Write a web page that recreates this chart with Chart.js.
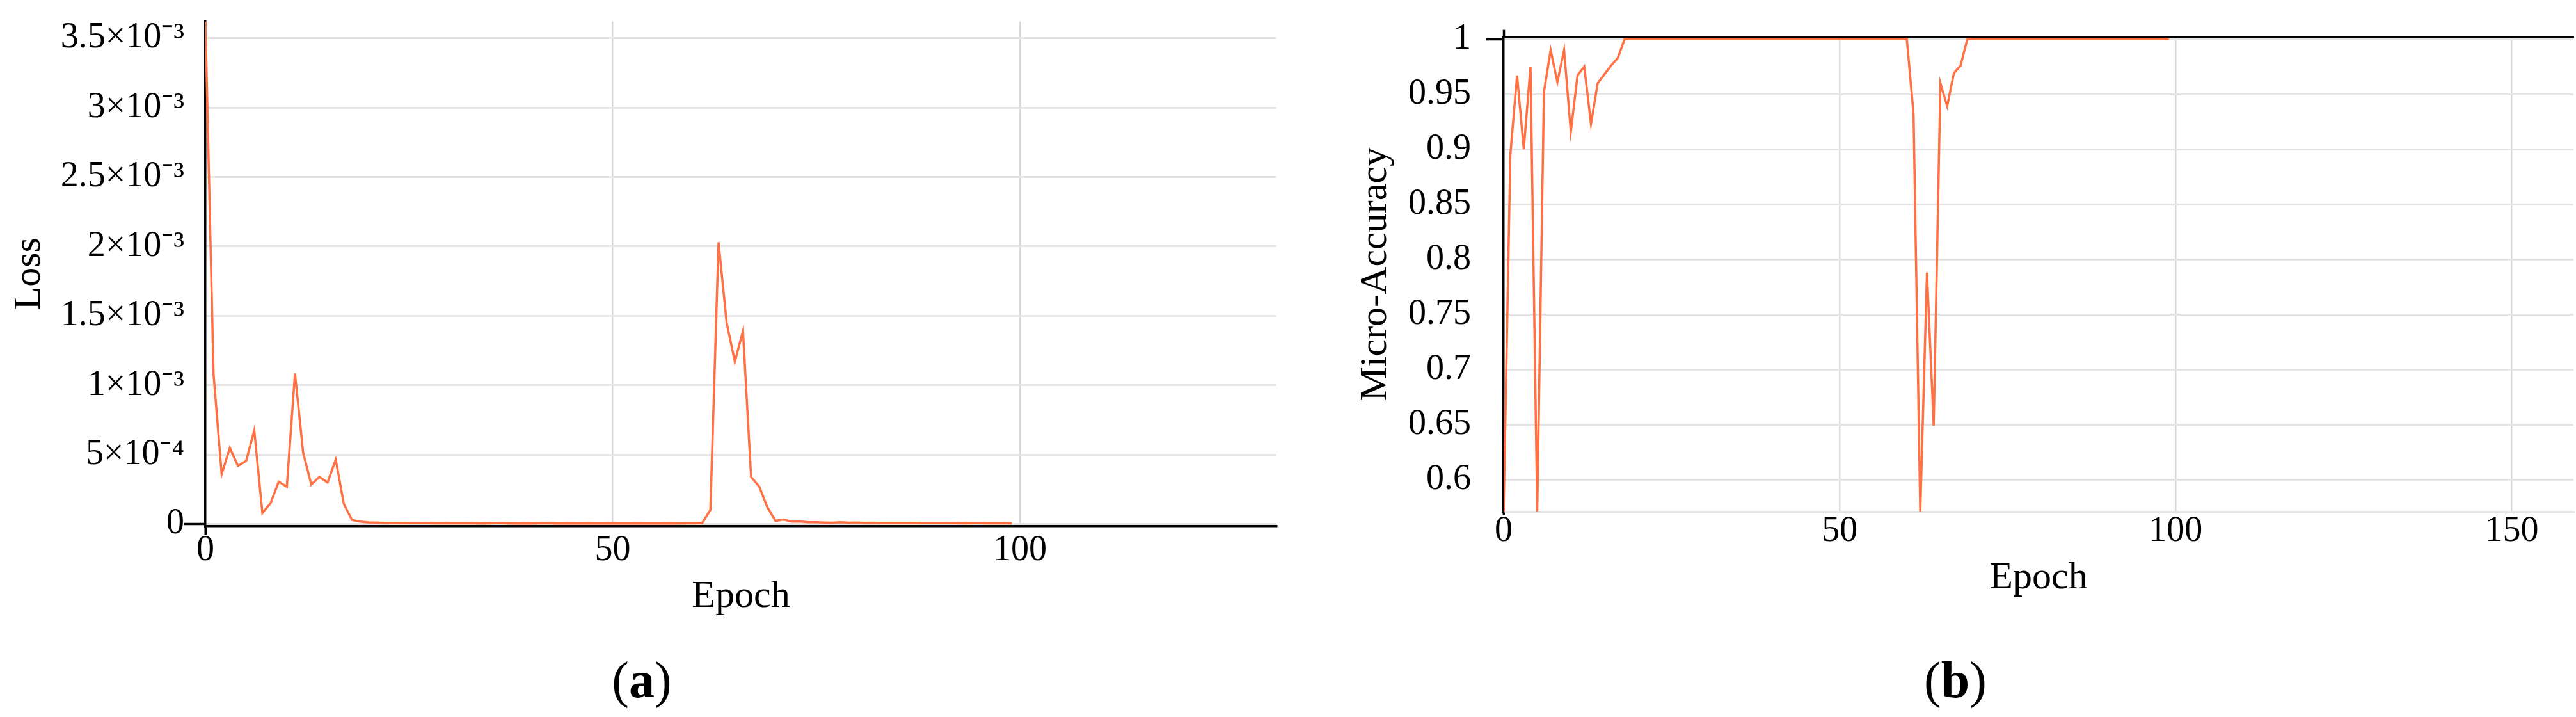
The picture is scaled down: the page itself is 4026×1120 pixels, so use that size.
<!DOCTYPE html>
<html>
<head>
<meta charset="utf-8">
<script src="https://cdn.jsdelivr.net/npm/chart.js@4.4.1/dist/chart.umd.min.js"></script>
<style>
  html, body { margin: 0; padding: 0; background: #fff; }
  body { width: 4026px; height: 1120px; position: relative; overflow: hidden; font-family: 'Liberation Serif', serif; }
  .panel { position: absolute; top: 0; height: 1000px; }
  .caption { position: absolute; font-size: 80px; color: #000; transform: translate(-50%, -50%); white-space: nowrap; }
  .caption b { font-weight: bold; }
</style>
</head>
<body>
<div class="panel" style="left:0;width:2040px"><canvas id="lossChart"></canvas></div>
<div class="panel" style="left:2040px;width:1986px"><canvas id="accChart"></canvas></div>
<div class="caption" style="left:1003px;top:1062px">(<b>a</b>)</div>
<div class="caption" style="left:3056px;top:1062px">(<b>b</b>)</div>
<script>
// loss per epoch, panel (a)
const lossValues = [
  3.62e-3, 1.08e-3, 3.6e-4, 5.5e-4, 4.2e-4, 4.55e-4, 6.75e-4, 8.0e-5, 1.5e-4, 3.05e-4,
  2.7e-4, 1.085e-3, 5.15e-4, 2.85e-4, 3.4e-4, 3.0e-4, 4.65e-4, 1.45e-4, 3.0e-5, 1.8e-5,
  1.3e-5, 1.1e-5, 9e-6, 8e-6, 8e-6, 7e-6, 7e-6, 8e-6, 6e-6, 7e-6,
  6e-6, 6e-6, 7e-6, 6e-6, 5e-6, 6e-6, 8e-6, 6e-6, 5e-6, 6e-6,
  5e-6, 6e-6, 7e-6, 5e-6, 5e-6, 6e-6, 5e-6, 6e-6, 5e-6, 5e-6,
  6e-6, 5e-6, 5e-6, 6e-6, 5e-6, 5e-6, 5e-6, 6e-6, 5e-6, 6e-6,
  6e-6, 8e-6, 1.03e-4, 2.03e-3, 1.45e-3, 1.17e-3, 1.39e-3, 3.4e-4, 2.7e-4, 1.2e-4,
  2.4e-5, 3.3e-5, 1.9e-5, 2.0e-5, 1.4e-5, 1.4e-5, 1.2e-5, 1.0e-5, 1.4e-5, 1.0e-5,
  1.1e-5, 9e-6, 1.0e-5, 8e-6, 9e-6, 8e-6, 8e-6, 9e-6, 7e-6, 8e-6,
  7e-6, 8e-6, 7e-6, 6e-6, 7e-6, 7e-6, 6e-6, 6e-6, 7e-6, 6e-6
];

// micro-accuracy per epoch, panel (b)
const accuracyValues = [
  0.571, 0.895, 0.967, 0.900, 0.975, 0.571, 0.952, 0.990, 0.961, 0.990,
  0.916, 0.967, 0.975, 0.923, 0.960, 0.968, 0.976, 0.983, 1, 1,
  1, 1, 1, 1, 1, 1, 1, 1, 1, 1,
  1, 1, 1, 1, 1, 1, 1, 1, 1, 1,
  1, 1, 1, 1, 1, 1, 1, 1, 1, 1,
  1, 1, 1, 1, 1, 1, 1, 1, 1, 1,
  1, 0.932, 0.571, 0.788, 0.649, 0.960, 0.939, 0.969, 0.976, 1,
  1, 1, 1, 1, 1, 1, 1, 1, 1, 1,
  1, 1, 1, 1, 1, 1, 1, 1, 1, 1,
  1, 1, 1, 1, 1, 1, 1, 1, 1, 1
];

const epochs = lossValues.map((v, i) => i);

const lossTickValues = [0, 5e-4, 1e-3, 1.5e-3, 2e-3, 2.5e-3, 3e-3, 3.5e-3];
const lossTickLabels = ['0', '5×10⁻⁴', '1×10⁻³', '1.5×10⁻³', '2×10⁻³', '2.5×10⁻³', '3×10⁻³', '3.5×10⁻³'];
const accTickValues = [0.6, 0.65, 0.7, 0.75, 0.8, 0.85, 0.9, 0.95, 1];
const accTickLabels = ['0.6', '0.65', '0.7', '0.75', '0.8', '0.85', '0.9', '0.95', '1'];

const FONT = "'Liberation Serif', 'Times New Roman', serif";
const ORANGE = '#ff7043';
const GRID_H = '#e4e4e4';
const GRID_V = '#d8d8d8';
const NONE = 'rgba(0,0,0,0)';

function pickLabel(values, labels, v) {
  for (let i = 0; i < values.length; i++) {
    if (Math.abs(values[i] - v) < 1e-9) return labels[i];
  }
  return '';
}

function lineData(values) {
  return values.map((v, i) => ({ x: epochs[i], y: v }));
}

function dataset(values) {
  return {
    data: lineData(values),
    borderColor: ORANGE,
    borderWidth: 3.5,
    pointRadius: 0,
    tension: 0,
    fill: false
  };
}

const tickFont = { family: FONT, size: 56 };
const titleFont = { family: FONT, size: 60 };

// (a) Loss
new Chart(document.getElementById('lossChart'), {
  type: 'line',
  data: { datasets: [dataset(lossValues)] },
  options: {
    responsive: true,
    maintainAspectRatio: false,
    animation: false,
    devicePixelRatio: 1,
    layout: { padding: { top: 25, right: 45, left: 0, bottom: 0 } },
    plugins: { legend: { display: false }, tooltip: { enabled: false } },
    scales: {
      x: {
        type: 'linear', min: 0, max: 131.5,
        afterFit: s => { s.height = 178; },
        ticks: { stepSize: 50, includeBounds: false, padding: -8, maxRotation: 0, color: '#000', font: tickFont },
        grid: {
          color: c => c.tick && c.tick.value === 0 ? NONE : GRID_V,
          lineWidth: 2.5, tickLength: 13, tickWidth: 3.5,
          tickColor: c => c.tick && c.tick.value === 0 ? '#000' : NONE
        },
        border: { color: '#000', width: 3.5 },
        title: { display: true, text: 'Epoch', color: '#000', font: titleFont, padding: { top: 0, bottom: 32 } }
      },
      y: {
        type: 'linear', min: -1.5e-5, max: 3.62e-3,
        afterFit: s => { s.width = 321; },
        ticks: {
          stepSize: 5e-4, includeBounds: false, padding: 0, color: '#000', font: tickFont,
          callback: v => pickLabel(lossTickValues, lossTickLabels, v)
        },
        grid: {
          color: GRID_H, lineWidth: 3, tickLength: 33, tickWidth: 3.5,
          tickColor: c => c.tick && Math.abs(c.tick.value) < 1e-12 ? '#000' : NONE
        },
        border: { color: '#000', width: 3.5 },
        title: { display: true, text: 'Loss', color: '#000', font: titleFont, padding: { top: 10, bottom: 0 } }
      }
    }
  }
});

// (b) Micro-Accuracy
new Chart(document.getElementById('accChart'), {
  type: 'line',
  data: { datasets: [dataset(accuracyValues)] },
  options: {
    responsive: true,
    maintainAspectRatio: false,
    animation: false,
    devicePixelRatio: 1,
    layout: { padding: { top: 36.5, right: 4, left: 0, bottom: 0 } },
    plugins: { legend: { display: false }, tooltip: { enabled: false } },
    scales: {
      x: {
        type: 'linear', min: 0, max: 159.2,
        afterFit: s => { s.height = 201; },
        ticks: { stepSize: 50, includeBounds: false, padding: -8, maxRotation: 0, color: '#000', font: tickFont },
        grid: {
          color: c => c.tick && c.tick.value === 0 ? NONE : GRID_V,
          lineWidth: 2.5, tickLength: 6, tickWidth: 3.5,
          tickColor: c => c.tick && c.tick.value === 0 ? '#000' : NONE
        },
        border: { color: GRID_H, width: 3 },
        title: { display: true, text: 'Epoch', color: '#000', font: titleFont, padding: { top: 0, bottom: 61 } }
      },
      xTop: {
        type: 'linear', position: 'top', min: 0, max: 159.2,
        afterFit: s => { s.height = 11; },
        ticks: { display: false, stepSize: 50, includeBounds: false },
        grid: {
          drawOnChartArea: false, tickLength: 11, tickWidth: 3.5,
          tickColor: c => c.tick && c.tick.value === 0 ? '#000' : NONE
        },
        border: { color: '#000', width: 3.5 }
      },
      y: {
        type: 'linear', min: 0.571, max: 1.002,
        afterFit: s => { s.width = 310; },
        ticks: {
          stepSize: 0.05, includeBounds: false, padding: 24, color: '#000', font: tickFont,
          callback: v => pickLabel(accTickValues, accTickLabels, v)
        },
        grid: {
          color: GRID_H, lineWidth: 3, tickLength: 27, tickWidth: 3.5,
          tickColor: c => c.tick && Math.abs(c.tick.value - 1) < 1e-9 ? '#000' : NONE
        },
        border: { color: '#000', width: 3.5 },
        title: { display: true, text: 'Micro-Accuracy', color: '#000', font: titleFont, padding: { top: 74, bottom: 0 } }
      }
    }
  }
});
</script>
</body>
</html>
